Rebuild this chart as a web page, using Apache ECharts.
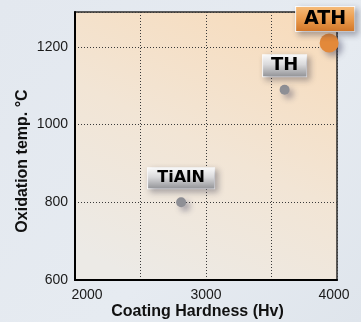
<!DOCTYPE html>
<html>
<head>
<meta charset="utf-8">
<script src="https://cdn.jsdelivr.net/npm/echarts@6/dist/echarts.min.js"></script>
<style>
  html, body { margin: 0; padding: 0; }
  #chart { width: 361px; height: 322px; }
</style>
</head>
<body>
<div id="chart"></div>
<script>
// Coating grades: hardness vs. oxidation temperature
const coatings = ['TiAlN', 'TH', 'ATH'];
const hardness = [2810, 3600, 3940];
const oxidationTemp = [800, 1090, 1210];
const xTicks = [2000, 3000, 4000];
const yTicks = [600, 800, 1000, 1200];

const FONT = '"Liberation Sans", Arial, sans-serif';
const LABEL_FONT = '"DejaVu Sans", sans-serif';

function linear(x, y, x2, y2, stops) {
  return {
    type: 'linear', x: x, y: y, x2: x2, y2: y2,
    colorStops: stops.map(s => ({ offset: s[0], color: s[1] }))
  };
}

const grayBox = linear(0, 0, 0, 1, [[0, '#fbfbfb'], [0.45, '#d9d9db'], [1, '#8f9094']]);
const orangeBox = linear(0, 0, 0, 1, [[0, '#f6bd7c'], [0.5, '#eb9b4c'], [1, '#cf7427']]);

const styles = {
  TiAlN: { size: 10, color: '#8e8f95', box: grayBox, w: 66, h: 20, font: 16, offset: [0, -24] },
  TH:    { size: 10, color: '#8e8f95', box: grayBox, w: 43, h: 21, font: 18, offset: [0, -24] },
  ATH:   { size: 19, color: '#e3893a', box: orangeBox, w: 58, h: 24, font: 19, offset: [-4, -24] }
};

const data = coatings.map((name, i) => {
  const s = styles[name];
  return {
    name: name,
    value: [hardness[i], oxidationTemp[i]],
    symbolSize: s.size,
    itemStyle: {
      color: s.color,
      opacity: 1,
      shadowBlur: 6,
      shadowOffsetX: 4,
      shadowOffsetY: 4,
      shadowColor: 'rgba(60,60,90,0.45)'
    },
    label: {
      show: true,
      position: 'inside',
      offset: s.offset,
      formatter: name,
      width: s.w,
      height: s.h,
      lineHeight: s.h,
      align: 'center',
      verticalAlign: 'middle',
      color: '#000000',
      opacity: 1,
      fontFamily: LABEL_FONT,
      fontWeight: 'bold',
      fontSize: s.font,
      backgroundColor: s.box,
      borderColor: '#ffffff',
      borderWidth: 1,
      shadowBlur: 6,
      shadowOffsetX: 3,
      shadowOffsetY: 3,
      shadowColor: 'rgba(40,40,60,0.35)'
    }
  };
});

const chart = echarts.init(document.getElementById('chart'), null, { renderer: 'canvas' });

chart.setOption({
  animation: false,
  backgroundColor: linear(0, 0, 1, 1, [[0, '#e3e8ef'], [0.6, '#e6ebf1'], [1, '#dfe5ec']]),
  grid: {
    left: 75, right: 24, top: 12, bottom: 42,
    outerBoundsMode: 'none',
    containLabel: false,
    show: true,
    borderColor: '#2a2a2a',
    borderWidth: 1.5,
    backgroundColor: linear(0.25, 1, 0.75, 0, [[0, '#eceae6'], [0.5, '#f2e5d5'], [1, '#f7dcbd']])
  },
  xAxis: {
    type: 'value',
    min: 2000, max: 4000, interval: 500,
    name: 'Coating Hardness (Hv)',
    nameLocation: 'middle',
    nameGap: 24,
    nameMoveOverlap: false,
    nameTextStyle: { fontFamily: FONT, fontWeight: 'bold', fontSize: 16, color: '#111', padding: [0, 17, 0, 0] },
    axisLine: { lineStyle: { color: '#000', width: 2 } },
    axisTick: { show: false },
    axisLabel: {
      fontFamily: FONT, fontSize: 14, color: '#1a1a1a', margin: 8,
      formatter: v => {
        if (v === xTicks[0]) return '{first|' + v + '}';
        if (v === xTicks[xTicks.length - 1]) return '{last|' + v + '}';
        return xTicks.includes(v) ? String(v) : '';
      },
      rich: {
        first: { fontFamily: FONT, fontSize: 14, color: '#1a1a1a', padding: [0, 0, 0, 24] },
        last: { fontFamily: FONT, fontSize: 14, color: '#1a1a1a', padding: [0, 6, 0, 0] }
      }
    },
    splitLine: { show: true, lineStyle: { color: '#3a3a3a', width: 1, type: [1, 2] } }
  },
  yAxis: {
    type: 'value',
    min: 600, max: 1290, interval: 200,
    name: 'Oxidation temp. °C',
    nameLocation: 'middle',
    nameGap: 44,
    nameMoveOverlap: false,
    nameTextStyle: { fontFamily: FONT, fontWeight: 'bold', fontSize: 16, color: '#111', padding: [0, 30, 0, 0] },
    axisLine: { show: true, lineStyle: { color: '#000', width: 2 } },
    axisTick: { show: false },
    axisLabel: {
      fontFamily: FONT, fontSize: 14, color: '#1a1a1a', margin: 7,
      showMaxLabel: false,
      formatter: v => yTicks.includes(v) ? String(v) : ''
    },
    splitLine: { show: true, lineStyle: { color: '#3a3a3a', width: 1, type: [1, 2] } }
  },
  series: [{
    type: 'scatter',
    data: data,
    z: 5
  }]
});
</script>
</body>
</html>
